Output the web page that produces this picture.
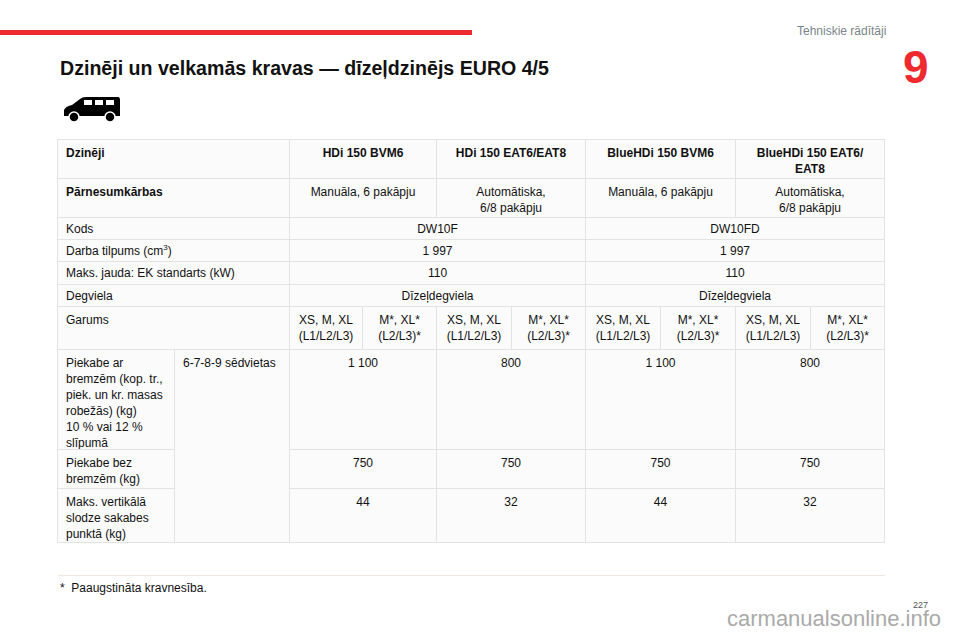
<!DOCTYPE html>
<html>
<head>
<meta charset="utf-8">
<script src="https://cdn.jsdelivr.net/npm/chart.js"></script>
<style>
body { margin:0; width:960px; height:640px; background:#fff; font-family:"Liberation Sans", Arial, sans-serif; position:relative; overflow:hidden; }
.c { position:absolute; box-sizing:border-box; border:1px solid #e3e3e3; background:#fbfbfb; font-size:12px; color:#111; padding:5px 8px; line-height:16px; margin:-1px 0 0 -1px; overflow:hidden; }
.s { padding-top:3px; }
.b { font-weight:bold; }
.m { text-align:center; }
</style>
</head>
<body>
<div style="position:absolute;left:0;top:30px;width:472px;height:5px;background:#ee2a2e"></div>
<div style="position:absolute;left:797px;top:24px;font-size:12px;color:#7a8589">Tehniskie rādītāji</div>
<div style="position:absolute;left:903px;top:40px;font-size:46px;font-weight:bold;color:#ee2a2e">9</div>
<div style="position:absolute;left:60px;top:57px;font-size:19.6px;font-weight:bold;color:#111">Dzinēji un velkamās kravas — dīzeļdzinējs EURO 4/5</div>
<svg style="position:absolute;left:62px;top:96px" width="60" height="28" viewBox="0 0 60 28">
<path d="M2 20 L2 14 Q4 10 10 9 L18 3 Q20 1 24 1 L56 1 Q58 1 58 4 L58 20 Z" fill="#000"/>
<rect x="22" y="4" width="8" height="5" fill="#fff"/><rect x="33" y="4" width="8" height="5" fill="#fff"/><rect x="44" y="4" width="8" height="5" fill="#fff"/>
<circle cx="12" cy="21" r="5" fill="#000" stroke="#fff" stroke-width="1.5"/><circle cx="48" cy="21" r="5" fill="#000" stroke="#fff" stroke-width="1.5"/>
</svg>
<div id="tbl"></div>
<div style="position:absolute;left:58px;top:575px;width:827px;height:1px;background:#f0e6e0"></div>
<div style="position:absolute;left:60px;top:581px;font-size:12px;color:#111">*&nbsp; Paaugstināta kravnesība.</div>
<div style="position:absolute;left:727px;top:606px;font-size:22px;color:#aaa">carmanualsonline.info</div>
<div style="position:absolute;left:913px;top:600px;font-size:9px;color:#555">227</div>
<script>
// table values \/
const engines = ["HDi 150 BVM6", "HDi 150 EAT6/EAT8", "BlueHDi 150 BVM6", "BlueHDi 150 EAT6/<br>EAT8"];
const gearboxes = ["Manuāla, 6 pakāpju", "Automātiska,<br>6/8 pakāpju", "Manuāla, 6 pakāpju", "Automātiska,<br>6/8 pakāpju"];
const codes = ["DW10F", "DW10FD"];
const displacement = ["1 997", "1 997"];
const power = ["110", "110"];
const fuel = ["Dīzeļdegviela", "Dīzeļdegviela"];
const lengths = ["XS, M, XL<br>(L1/L2/L3)", "M*, XL*<br>(L2/L3)*"];
const brakedTrailer = ["1 100", "800", "1 100", "800"];
const unbrakedTrailer = ["750", "750", "750", "750"];
const noseWeight = ["44", "32", "44", "32"];
// table values /\

const tbl = document.getElementById("tbl");
function cell(x0, x1, y0, y1, html, cls) {
    let d = document.createElement("div");
    d.className = "c " + (cls || "");
    d.style.left = x0 + "px"; d.style.top = y0 + "px";
    d.style.width = (x1 - x0 + 1) + "px"; d.style.height = (y1 - y0 + 1) + "px";
    d.innerHTML = html;
    tbl.appendChild(d);
}
const L = 58, R = 885, mid = 290;
const cols4 = [290, 437, 586, 736, 885];
const cols2 = [290, 586, 885];
const cols8 = [290, 363, 437, 512, 586, 661, 736, 811, 885];
const rows = [140, 179, 218, 240, 262, 285, 307, 350, 450, 489, 543];

cell(L, mid, rows[0], rows[1], "Dzinēji", "b");
engines.forEach((t, i) => cell(cols4[i], cols4[i+1], rows[0], rows[1], t, "b m"));
cell(L, mid, rows[1], rows[2], "Pārnesumkārbas", "b");
gearboxes.forEach((t, i) => cell(cols4[i], cols4[i+1], rows[1], rows[2], t, "m"));
[["Kods", codes], ["Darba tilpums (cm<sup style='font-size:8px;line-height:0'>3</sup>)", displacement], ["Maks. jauda: EK standarts (kW)", power], ["Degviela", fuel]].forEach((r, k) => {
    cell(L, mid, rows[2+k], rows[3+k], r[0], "s");
    r[1].forEach((t, i) => cell(cols2[i], cols2[i+1], rows[2+k], rows[3+k], t, "m s"));
});
cell(L, mid, rows[6], rows[7], "Garums");
for (let i = 0; i < 8; i++) cell(cols8[i], cols8[i+1], rows[6], rows[7], lengths[i % 2], "m");
cell(L, 175, rows[7], rows[8], "Piekabe ar<br>bremzēm (kop. tr.,<br>piek. un kr. masas<br>robežās) (kg)<br>10 % vai 12 %<br>slīpumā");
cell(175, mid, rows[7], rows[10], "6-7-8-9 sēdvietas");
cell(L, 175, rows[8], rows[9], "Piekabe bez<br>bremzēm (kg)");
cell(L, 175, rows[9], rows[10], "Maks. vertikālā<br>slodze sakabes<br>punktā (kg)");
[brakedTrailer, unbrakedTrailer, noseWeight].forEach((arr, k) => {
    arr.forEach((t, i) => cell(cols4[i], cols4[i+1], rows[7+k], rows[8+k], t, "m"));
});
</script>
</body>
</html>
